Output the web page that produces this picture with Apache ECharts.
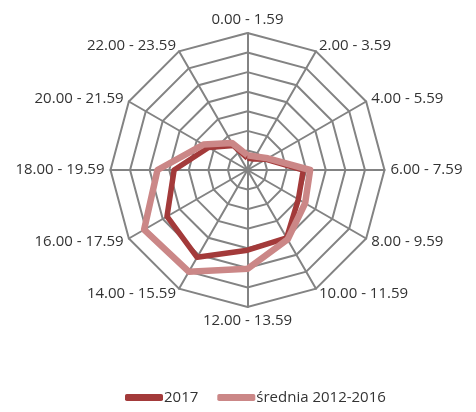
<!DOCTYPE html>
<html>
<head>
<meta charset="utf-8">
<script src="https://cdn.jsdelivr.net/npm/echarts@6/dist/echarts.min.js"></script>
<style>
  html, body { margin: 0; padding: 0; background: #fff; }
  #chart { width: 476px; height: 412px; }
</style>
</head>
<body>
<div id="chart"></div>
<script>
// categories clockwise from the top
var hours = ['0.00 - 1.59', '2.00 - 3.59', '4.00 - 5.59', '6.00 - 7.59', '8.00 - 9.59', '10.00 - 11.59',
  '12.00 - 13.59', '14.00 - 15.59', '16.00 - 17.59', '18.00 - 19.59', '20.00 - 21.59', '22.00 - 23.59'];
var data2017 = [1.2, 1.3, 2.2, 5.7, 6.0, 8.0, 8.2, 10.3, 9.5, 7.5, 4.6, 2.9];
var dataAvg = [1.5, 1.6, 2.4, 6.4, 6.8, 8.2, 10.1, 12.0, 12.2, 9.2, 5.2, 3.2];
var seriesNames = ['2017', 'średnia 2012-2016'];
var maxVal = 14;

// echarts lays radar axes out counter-clockwise, so keep the first and flip the rest
function clockwise(arr) {
  return [arr[0]].concat(arr.slice(1).reverse());
}

var chart = echarts.init(document.getElementById('chart'));

var option = {
  animation: false,
  textStyle: { fontFamily: 'Open Sans' },
  legend: {
    bottom: 2,
    left: 120,
    itemWidth: 38,
    itemHeight: 7,
    itemGap: 19,
    icon: 'roundRect',
    textStyle: { fontSize: 15, color: '#333', fontFamily: 'Open Sans', padding: [0, 0, 0, -4] },
    data: seriesNames
  },
  radar: {
    center: [247.5, 170],
    radius: 137,
    shape: 'polygon',
    splitNumber: 7,
    nameGap: 6,
    axisName: { color: '#333', fontSize: 15, fontFamily: 'Open Sans' },
    axisLine: { lineStyle: { color: '#838383', width: 2 } },
    splitLine: { lineStyle: { color: '#838383', width: 2 } },
    splitArea: { show: false },
    indicator: clockwise(hours).map(function (h) { return { name: h, max: maxVal, min: 0 }; })
  },
  series: [{
    type: 'radar',
    symbol: 'none',
    data: [
      {
        name: seriesNames[0],
        value: clockwise(data2017),
        itemStyle: { color: '#A33A3A' },
        lineStyle: { color: '#A33A3A', width: 5.5 }
      },
      {
        name: seriesNames[1],
        value: clockwise(dataAvg),
        itemStyle: { color: '#CB8787' },
        lineStyle: { color: '#CB8787', width: 6.5 }
      }
    ]
  }]
};

chart.setOption(option);
</script>
</body>
</html>
